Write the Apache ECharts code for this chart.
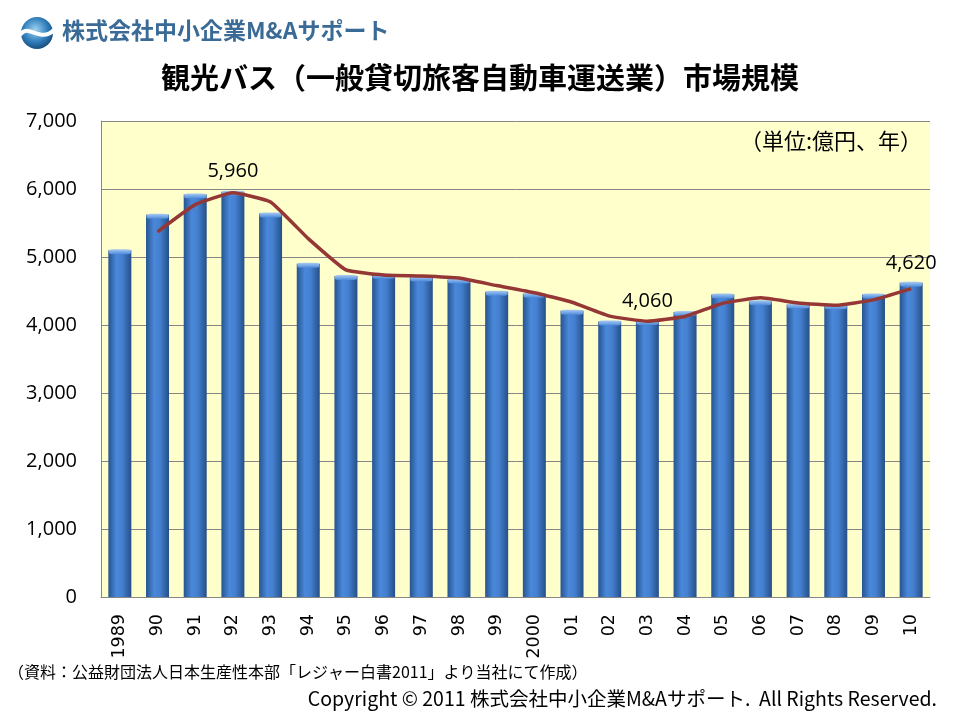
<!DOCTYPE html>
<html>
<head>
<meta charset="utf-8">
<script src="https://cdn.jsdelivr.net/npm/echarts@6/dist/echarts.min.js"></script>
<style>html,body{margin:0;padding:0;background:#fff}#c{width:960px;height:720px}</style>
</head>
<body>
<div id="c"></div>
<script>
const categories = ['1989','90','91','92','93','94','95','96','97','98','99','2000','01','02','03','04','05','06','07','08','09','10'];
const marketSize = [5100,5620,5920,5960,5640,4900,4720,4740,4700,4670,4490,4460,4210,4050,4060,4190,4450,4350,4300,4290,4450,4620];
const trendLine = [null,5370,5770,5945,5810,5270,4810,4735,4720,4690,4580,4475,4335,4130,4055,4125,4320,4400,4325,4290,4370,4535];
const labeledYears = ['92','03','10'];
const yTicks = {min:0, max:7000, interval:1000};

const chart = echarts.init(document.getElementById('c'), null, {renderer:'canvas'});
const barGrad = new echarts.graphic.LinearGradient(0,0,1,0,[
  {offset:0,color:'#26548F'},{offset:0.35,color:'#4A88DA'},{offset:0.6,color:'#4580D0'},{offset:1,color:'#254F88'}]);
const capGrad = new echarts.graphic.LinearGradient(0,0,0,1,[
  {offset:0,color:'#A9CBF2'},{offset:1,color:'#4D8ADB'}]);

chart.setOption({
  animation:false,
  backgroundColor:'#ffffff',
  grid:{left:101,right:30,top:121,bottom:123,show:true,backgroundColor:'#FFFFCC',borderWidth:0},
  xAxis:{type:'category',data:categories,
    axisLine:{lineStyle:{color:'#868686',width:1}},axisTick:{show:false},
    axisLabel:{rotate:90,margin:17,fontFamily:'DejaVu Sans',fontSize:17.5,color:'#000'}},
  yAxis:{type:'value',min:yTicks.min,max:yTicks.max,interval:yTicks.interval,
    axisLine:{show:true,lineStyle:{color:'#868686'}},axisTick:{show:false},
    splitLine:{lineStyle:{color:'#868686',width:1}},
    axisLabel:{margin:24,fontFamily:'Open Sans',fontSize:20,color:'#000',
      formatter:v=>v.toLocaleString('en-US')}},
  series:[
    {type:'bar',data:marketSize.map((v,i)=>({value:v,
        label:{show:labeledYears.includes(categories[i])}})),
      barWidth:23,itemStyle:{color:barGrad},
      label:{position:'top',distance:10,fontFamily:'Open Sans',fontSize:20,color:'#000',
        formatter:p=>p.value.toLocaleString('en-US')}},
    {type:'pictorialBar',data:marketSize,symbol:'roundRect',symbolSize:[22,5],
      symbolPosition:'end',symbolOffset:[0,'-20%'],itemStyle:{color:capGrad},z:3,silent:true},
    {type:'line',data:trendLine,smooth:0.12,showSymbol:false,symbol:'none',
      lineStyle:{color:'#953735',width:3.5},z:5}
  ],
  graphic:[
    {type:'circle',shape:{cx:37,cy:33,r:16},style:{fill:new echarts.graphic.RadialGradient(0.45,0.4,0.7,[
      {offset:0,color:'#9FD3F2'},{offset:0.55,color:'#2F7DBA'},{offset:1,color:'#0E3A66'}])}},
    {type:'bezierCurve',shape:{x1:20,y1:35,cpx1:28,cpy1:22,cpx2:40,cpy2:44,x2:54,y2:30},
      style:{stroke:'#ffffff',lineWidth:4,fill:null}},
    {type:'text',left:62,top:19,style:{text:'株式会社中小企業M&Aサポート',fontFamily:'Noto Sans CJK JP',
      fontWeight:'bold',fontSize:23,fill:'#3A6A96'}},
    {type:'text',left:'center',top:63,style:{text:'観光バス（一般貸切旅客自動車運送業）市場規模',
      fontFamily:'Noto Sans CJK JP',fontWeight:'bold',fontSize:29,fill:'#000'}},
    {type:'text',right:38,top:130,style:{text:'（単位:億円、年）',fontFamily:'Noto Sans CJK JP',fontSize:22,fill:'#000'}},
    {type:'text',left:8,top:664,style:{text:'（資料：公益財団法人日本生産性本部「レジャー白書2011」より当社にて作成）',
      fontFamily:'Noto Sans CJK JP',fontSize:16,fill:'#000'}},
    {type:'text',right:23,top:689,style:{text:'Copyright © 2011 株式会社中小企業M&Aサポート.  All Rights Reserved.',
      fontFamily:'Noto Sans CJK JP',fontSize:19.5,fill:'#000'}}
  ]
});
</script>
</body>
</html>
